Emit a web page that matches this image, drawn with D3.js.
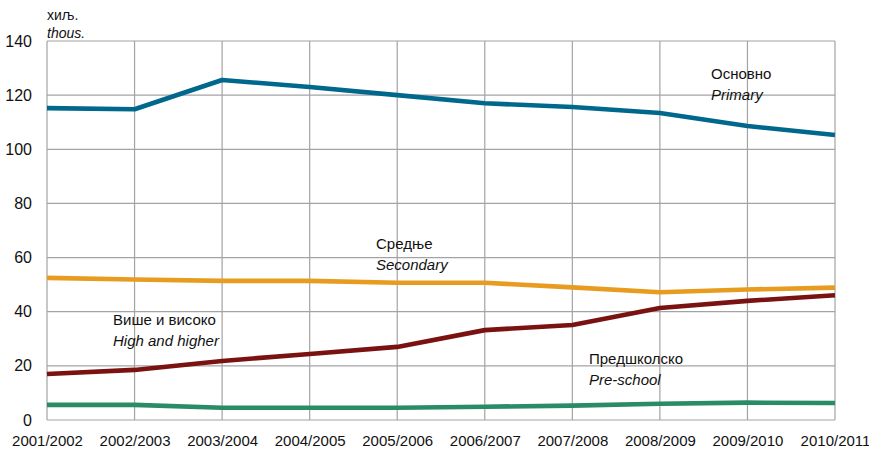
<!DOCTYPE html>
<html><head><meta charset="utf-8">
<script src="https://cdn.jsdelivr.net/npm/d3@7"></script>
<style>body{margin:0;background:#fff;font-family:"Liberation Sans",Arial,sans-serif;}</style>
</head><body><svg id="c" width="869" height="452"></svg>
<script>
const categories = ["2001/2002","2002/2003","2003/2004","2004/2005","2005/2006","2006/2007","2007/2008","2008/2009","2009/2010","2010/2011"];
const primary   = [115.2,114.8,125.6,123.0,120.0,117.0,115.6,113.4,108.6,105.3];
const secondary = [52.5,51.9,51.4,51.4,50.7,50.7,49.0,47.2,48.2,48.9];
const higher    = [17.0,18.5,21.8,24.4,27.0,33.2,35.1,41.4,44.0,46.1];
const preschool = [5.6,5.6,4.5,4.5,4.5,4.9,5.3,6.0,6.4,6.3];
const yTicks = [0,20,40,60,80,100,120,140];

const series = [
  {name:"primary", values:primary, color:"#00688c", l1:"Основно", l2:"Primary", lx:711, ly:79},
  {name:"secondary", values:secondary, color:"#e89c1f", l1:"Средње", l2:"Secondary", lx:376, ly:249},
  {name:"higher", values:higher, color:"#7a1212", l1:"Више и високо", l2:"High and higher", lx:113, ly:325},
  {name:"preschool", values:preschool, color:"#2a8b67", l1:"Предшколско", l2:"Pre-school", lx:589, ly:364}
];

const svg = d3.select("#c");
const L=47, R=835, T=41, B=420;
const x = d3.scalePoint().domain(categories).range([L,R]);
const y = d3.scaleLinear().domain([0,140]).range([B,T]);
const grid = "#a3a3a3";

svg.append("g").selectAll("line").data(yTicks).join("line")
  .attr("x1",L).attr("x2",R).attr("y1",d=>y(d)).attr("y2",d=>y(d))
  .attr("stroke",grid).attr("stroke-width",1.2);
svg.append("g").selectAll("line").data(categories).join("line")
  .attr("x1",d=>x(d)).attr("x2",d=>x(d)).attr("y1",T).attr("y2",B)
  .attr("stroke",grid).attr("stroke-width",1.2);

const ya = svg.append("g").attr("transform",`translate(${L},0)`)
  .call(d3.axisLeft(y).tickValues(yTicks).tickSize(0).tickPadding(15));
ya.select(".domain").remove();
ya.selectAll("text").attr("font-family","Liberation Sans, Arial, sans-serif").attr("font-size",16).attr("fill","#111");

const xa = svg.append("g").attr("transform",`translate(0,${B})`)
  .call(d3.axisBottom(x).tickSize(0).tickPadding(15));
xa.select(".domain").remove();
xa.selectAll("text").attr("font-family","Liberation Sans, Arial, sans-serif").attr("font-size",15).attr("fill","#111");

const line = d3.line().x((d,i)=>x(categories[i])).y(d=>y(d)).curve(d3.curveLinear);
svg.append("g").selectAll("path").data(series).join("path")
  .attr("d",d=>line(d.values)).attr("fill","none")
  .attr("stroke",d=>d.color).attr("stroke-width",4.6).attr("stroke-linejoin","round");

const lg = svg.append("g").attr("font-family","Liberation Sans, Arial, sans-serif").attr("font-size",15).attr("fill","#111");
series.forEach(s=>{
  lg.append("text").attr("x",s.lx).attr("y",s.ly).text(s.l1);
  lg.append("text").attr("x",s.lx).attr("y",s.ly+21).attr("font-style","italic").text(s.l2);
});

const ug = svg.append("g").attr("font-family","Liberation Sans, Arial, sans-serif").attr("font-size",14).attr("fill","#111");
ug.append("text").attr("x",47).attr("y",20).text("хиљ.");
ug.append("text").attr("x",47).attr("y",38).attr("font-style","italic").text("thous.");
</script></body></html>
